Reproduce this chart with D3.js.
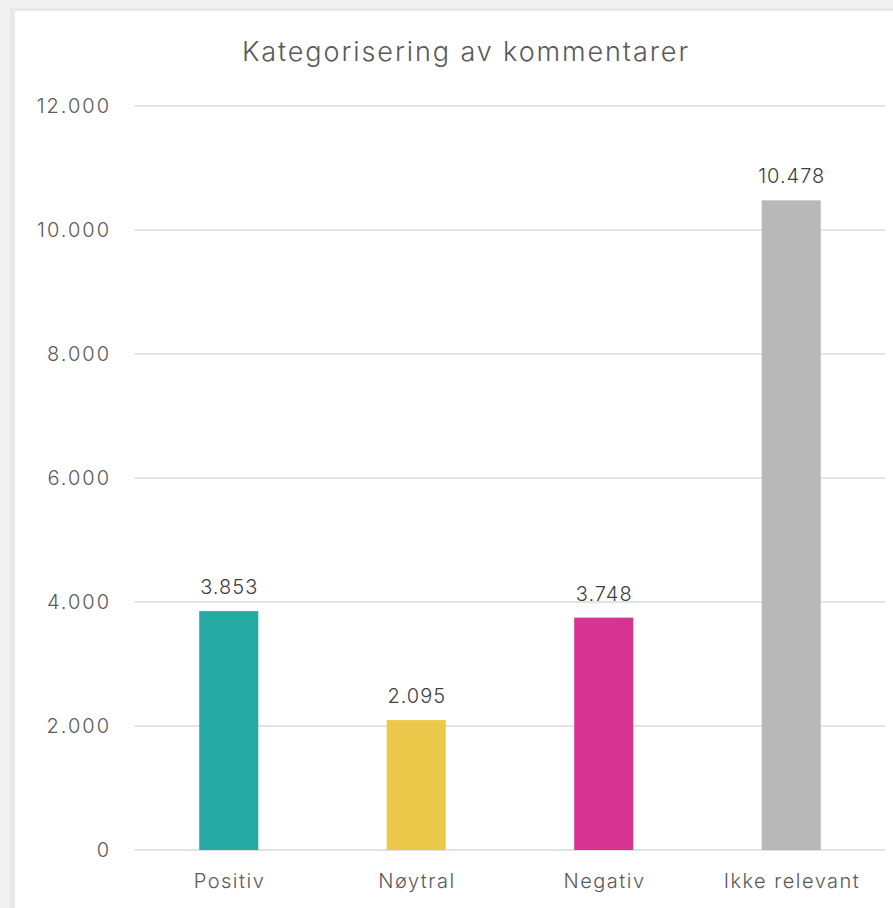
<!DOCTYPE html>
<html>
<head>
<meta charset="utf-8">
<script src="https://cdn.jsdelivr.net/npm/d3@7"></script>
<style>
  html, body { margin: 0; padding: 0; background: #f0f0f0; }
  svg { display: block; }
</style>
</head>
<body>
<svg></svg>
<script>
// chart data
var categories = ["Positiv", "Nøytral", "Negativ", "Ikke relevant"];
var counts = [3853, 2095, 3748, 10478];
var barColors = ["#25aba3", "#ecc84a", "#d63392", "#b8b8b8"];
var yTicks = [0, 2000, 4000, 6000, 8000, 10000, 12000];
var title = "Kategorisering av kommentarer";

var width = 893,
    height = 908;
var plotLeft = 135,
    plotRight = 885,
    plotTop = 106,
    plotBottom = 850;

var fontFam = "'Inter', 'Open Sans', sans-serif";

var svg = d3.select("svg")
    .attr("width", width)
    .attr("height", height);

// panel shadow + white panel
svg.append("rect")
    .attr("x", 10)
    .attr("y", 8)
    .attr("width", width)
    .attr("height", height)
    .attr("fill", "#e9e9e9");

svg.append("rect")
    .attr("x", 15)
    .attr("y", 11)
    .attr("width", width)
    .attr("height", height)
    .attr("fill", "#ffffff");

var fmt = function (v) {
    return d3.format(",")(v).replace(/,/g, ".");
};

var x = d3.scaleBand()
    .domain(categories)
    .range([plotLeft, plotRight])
    .paddingInner(0.685)
    .paddingOuter(0.3425);

var y = d3.scaleLinear()
    .domain([0, 12000])
    .range([plotBottom, plotTop]);

// gridlines
svg.append("g")
    .selectAll("line")
    .data(yTicks)
    .join("line")
    .attr("x1", plotLeft)
    .attr("x2", plotRight)
    .attr("y1", d => y(d))
    .attr("y2", d => y(d))
    .attr("stroke", "#d9d9d9")
    .attr("stroke-width", 1.5);

// y axis labels
var yAxis = svg.append("g")
    .attr("transform", "translate(" + plotLeft + ",0)")
    .call(d3.axisLeft(y).tickValues(yTicks).tickSize(0).tickPadding(24).tickFormat(fmt));
yAxis.select(".domain").remove();
yAxis.selectAll("text")
    .attr("fill", "#595959")
    .attr("font-size", "20px")
    .attr("font-weight", 300)
    .attr("letter-spacing", "2px")
    .attr("font-family", fontFam);

// bars
svg.append("g")
    .selectAll("rect")
    .data(categories)
    .join("rect")
    .attr("x", d => x(d))
    .attr("width", x.bandwidth())
    .attr("y", (d, i) => y(counts[i]))
    .attr("height", (d, i) => y(0) - y(counts[i]))
    .attr("fill", (d, i) => barColors[i]);

// value labels
svg.append("g")
    .selectAll("text")
    .data(categories)
    .join("text")
    .attr("x", d => x(d) + x.bandwidth() / 2 + 0.5)
    .attr("y", (d, i) => y(counts[i]) - 17)
    .attr("text-anchor", "middle")
    .attr("fill", "#404040")
    .attr("font-size", "20px")
    .attr("font-weight", 300)
    .attr("letter-spacing", "1px")
    .attr("font-family", fontFam)
    .text((d, i) => fmt(counts[i]));

// x axis labels
var xAxis = svg.append("g")
    .attr("transform", "translate(0," + plotBottom + ")")
    .call(d3.axisBottom(x).tickSize(0).tickPadding(24));
xAxis.select(".domain").remove();
xAxis.selectAll("text")
    .attr("fill", "#595959")
    .attr("font-size", "20px")
    .attr("font-weight", 300)
    .attr("letter-spacing", "1.5px")
    .attr("dx", "0.75px")
    .attr("font-family", fontFam);

// title
svg.append("text")
    .attr("x", 466)
    .attr("y", 61)
    .attr("text-anchor", "middle")
    .attr("fill", "#595959")
    .attr("font-size", "27px")
    .attr("font-weight", 300)
    .attr("letter-spacing", "1.9px")
    .attr("font-family", fontFam)
    .text(title);
</script>
</body>
</html>
